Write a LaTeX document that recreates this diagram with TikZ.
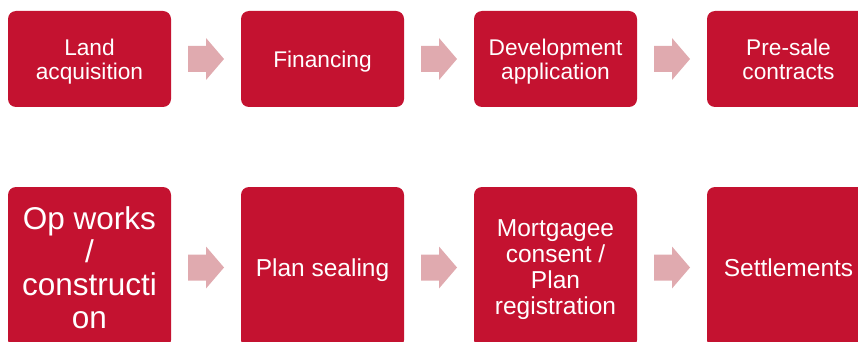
\documentclass[tikz,border=0pt]{standalone}
\usepackage{fontspec}
\setmainfont{Liberation Sans}
\usetikzlibrary{calc}
\definecolor{stepred}{RGB}{196,18,48}
\definecolor{arrowpink}{RGB}{224,170,175}
% block arrow centred between two stages
\newcommand\stagearrow[2]{%
  \coordinate (m) at ($(#1.east)!0.5!(#2.west)$);
  \fill[arrowpink] ($(m)+(-18,-13)$) -- ($(m)+(0,-13)$) -- ($(m)+(0,-21)$)
    -- ($(m)+(18,0)$) -- ($(m)+(0,21)$) -- ($(m)+(0,13)$) -- ($(m)+(-18,13)$) -- cycle;
}
\begin{document}
\begin{tikzpicture}[x=1pt,y=-1pt,
  stage/.style={fill=stepred, rounded corners=8pt, text=white, align=center,
    inner sep=0pt, minimum width=163pt, text depth=0pt},
  toprow/.style={stage, minimum height=96pt, font=\fontsize{22.7}{24}\selectfont},
  lowrow/.style={stage, minimum height=161pt, font=\fontsize{24.5}{26}\selectfont},
]
\useasboundingbox (0,0) rectangle (858,342);
\clip (0,0) rectangle (858,342);

% first row
\node[toprow] (land)  at (89.5,59)  {Land\\acquisition};
\node[toprow] (fin)   at (322.5,59) {Financing};
\node[toprow] (dev)   at (555.5,59) {Development\\application};
\node[toprow] (pre)   at (788.5,59) {Pre-sale\\contracts};

% second row
\node[lowrow, font=\fontsize{31.5}{33}\selectfont] (ops) at (89.5,267.5)
  {Op works\\/\\constructi\\on};
\node[lowrow] (seal)  at (322.5,267.5) {Plan sealing};
\node[lowrow] (mort)  at (555.5,267.5) {Mortgagee\\consent /\\Plan\\registration};
\node[lowrow] (settle) at (788.5,267.5) {Settlements};

\stagearrow{land}{fin}
\stagearrow{fin}{dev}
\stagearrow{dev}{pre}
\stagearrow{ops}{seal}
\stagearrow{seal}{mort}
\stagearrow{mort}{settle}
\end{tikzpicture}
\end{document}
